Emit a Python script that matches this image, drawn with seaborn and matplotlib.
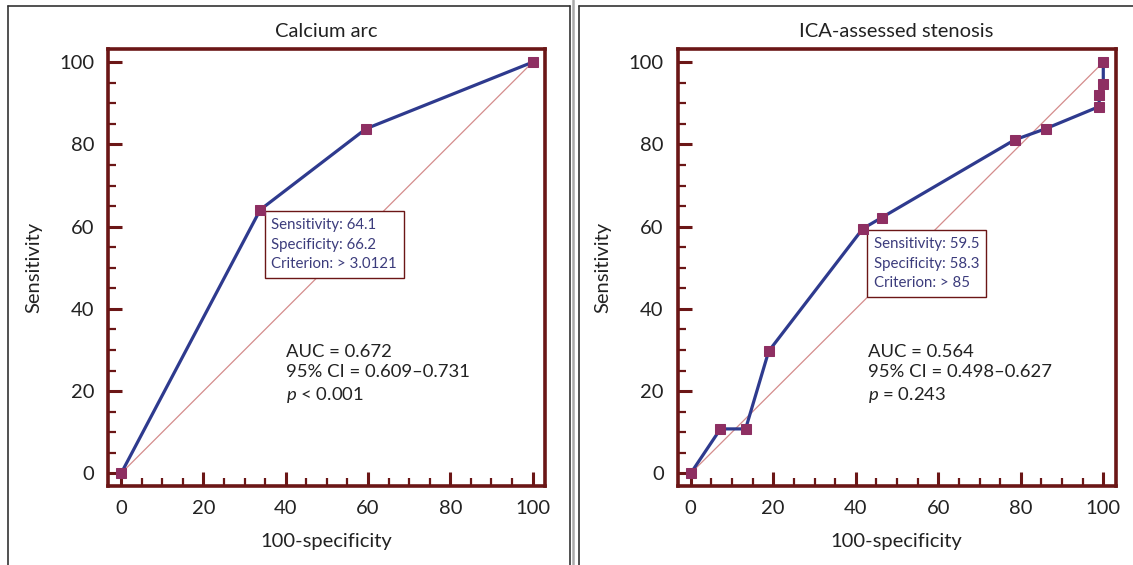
import matplotlib
matplotlib.use("Agg")
import matplotlib.pyplot as plt
from matplotlib.lines import Line2D
from matplotlib.ticker import MultipleLocator
import seaborn as sns
import pandas as pd

# ROC points (x = 100-specificity, y = sensitivity)
calc_x = [0, 33.8, 59.5, 100]
calc_y = [0, 64.1, 83.8, 100]

ica_x = [0, 7.2, 13.3, 18.9, 41.7, 46.3, 78.5, 86.0, 99.0, 99.0, 100, 100]
ica_y = [0, 10.8, 10.8, 29.7, 59.5, 62.2, 81.1, 83.8, 89.2, 91.9, 94.6, 100]

titles = ["Calcium arc", "ICA-assessed stenosis"]
box_texts = ["Sensitivity: 64.1\nSpecificity: 66.2\nCriterion: > 3.0121",
             "Sensitivity: 59.5\nSpecificity: 58.3\nCriterion: > 85"]
box_points = [(33.8, 64.1), (41.7, 59.5)]
stats_texts = ["AUC = 0.672\n95% CI = 0.609\u20130.731\n$p$ < 0.001",
               "AUC = 0.564\n95% CI = 0.498\u20130.627\n$p$ = 0.243"]
stats_pos = [(40, 31.5), (43, 31.5)]

sns.set_style("white")
plt.rcParams['font.family'] = ['Lato', 'DejaVu Sans']
plt.rcParams['mathtext.fontset'] = 'custom'
plt.rcParams['mathtext.it'] = 'Lato:italic'
plt.rcParams['mathtext.rm'] = 'Lato'

spine_col = '#6b1616'
line_col = '#2e3a8e'
mark_col = '#8e2f62'
diag_col = '#d48c8c'
txt_col = '#3c3c7c'

fig = plt.figure(figsize=(11.33, 5.65), dpi=100)
ax1 = fig.add_axes([0.0953, 0.139, 0.3857, 0.775])
ax2 = fig.add_axes([0.598, 0.139, 0.3867, 0.775])

data = [(calc_x, calc_y), (ica_x, ica_y)]
for i, ax in enumerate([ax1, ax2]):
    xs, ys = data[i]
    df = pd.DataFrame({'x': xs, 'y': ys})
    ax.plot([0, 100], [0, 100], color=diag_col, lw=0.9, zorder=1)
    sns.lineplot(data=df, x='x', y='y', sort=False, estimator=None, ax=ax,
                 color=line_col, lw=2.3, marker='s', markersize=7.5,
                 markerfacecolor=mark_col, markeredgecolor=mark_col, zorder=3)
    ax.set_xlim(-3.2, 103)
    ax.set_ylim(-3.2, 103.3)
    ax.xaxis.set_major_locator(MultipleLocator(20))
    ax.yaxis.set_major_locator(MultipleLocator(20))
    ax.xaxis.set_minor_locator(MultipleLocator(5))
    ax.yaxis.set_minor_locator(MultipleLocator(5))
    ax.tick_params(which='major', direction='in', length=10, width=2.2,
                   color=spine_col, labelsize=14.5, pad=10, labelcolor='#222222',
                   bottom=True, left=True)
    ax.tick_params(which='minor', direction='in', length=6, width=1.6,
                   color=spine_col, bottom=True, left=True)
    for sp in ax.spines.values():
        sp.set_color(spine_col)
        sp.set_linewidth(2.6)
    ax.set_xlabel('100-specificity', fontsize=14.5, labelpad=11, color='#222222')
    ax.set_ylabel('Sensitivity', fontsize=14.5, labelpad=12, color='#222222')
    ax.set_title(titles[i], fontsize=14.5, pad=8, color='#222222')

    bx, by = box_points[i]
    ax.annotate(box_texts[i], xy=(bx, by), xytext=(8, -6), textcoords='offset points',
                ha='left', va='top', fontsize=10.8, color=txt_col, linespacing=1.5,
                bbox=dict(boxstyle='square,pad=0.45', fc='white', ec=spine_col, lw=1.0),
                zorder=2)
    sx, sy = stats_pos[i]
    ax.text(sx, sy, stats_texts[i], ha='left', va='top', fontsize=13.3,
            color='#222222', linespacing=1.33)

# panel frames
frame = '#333333'
fig.add_artist(Line2D([8/1133, 8/1133], [0, 1 - 6/565], color=frame, lw=1.2))
fig.add_artist(Line2D([8/1133, 570/1133], [1 - 6/565, 1 - 6/565], color=frame, lw=1.2))
fig.add_artist(Line2D([570/1133, 570/1133], [0, 1 - 6/565], color=frame, lw=1.2))
fig.add_artist(Line2D([572.5/1133, 572.5/1133], [0, 1], color='#aaaaaa', lw=1.8))
fig.add_artist(Line2D([579/1133, 579/1133], [0, 1 - 6/565], color=frame, lw=1.2))
fig.add_artist(Line2D([579/1133, 1], [1 - 6/565, 1 - 6/565], color=frame, lw=1.2))

fig.savefig('out.png', dpi=100)
